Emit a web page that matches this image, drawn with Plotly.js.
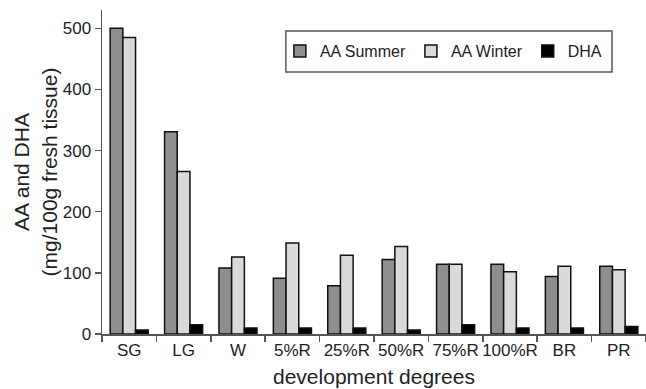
<!DOCTYPE html>
<html>
<head>
<meta charset="utf-8">
<script src="https://cdn.plot.ly/plotly-3.0.1.min.js"></script>
<style>html,body{margin:0;padding:0;background:#fff;}#chart{width:646px;height:389px;}</style>
</head>
<body>
<div id="chart"></div>
<script>
const categories = ["SG","LG","W","5%R","25%R","50%R","75%R","100%R","BR","PR"];
const aaSummer = [500, 331, 108, 91, 79, 122, 114, 114, 94, 111];
const aaWinter = [485, 266, 126, 149, 129, 143, 114, 102, 111, 105];
const dha = [6.5, 15, 9.8, 9.8, 9.8, 6.5, 15, 9.8, 9.8, 12.4];

const font = {family: "Liberation Sans, Arial, sans-serif", color: "#222"};
const outline = {color: "#111", width: 1.5};

const traces = [
  {type: "bar", name: "AA Summer", x: categories, y: aaSummer,
   marker: {color: "#8e8e8e", line: outline}},
  {type: "bar", name: "AA Winter", x: categories, y: aaWinter,
   marker: {color: "#dadada", line: outline}},
  {type: "bar", name: "DHA", x: categories, y: dha,
   marker: {color: "#000000", line: outline}}
];

const layout = {
  width: 646, height: 389,
  margin: {l: 102, r: 0, t: 10, b: 55},
  paper_bgcolor: "#fff", plot_bgcolor: "#fff",
  font: Object.assign({size: 16}, font),
  barmode: "group", bargap: 0.3, bargroupgap: 0,
  showlegend: true,
  legend: {orientation: "h", x: 0.327, xanchor: "left", y: 0.8735, yanchor: "middle",
           bgcolor: "rgba(0,0,0,0)", borderwidth: 0, font: Object.assign({size: 16}, font)},
  xaxis: {type: "category", showline: true, linecolor: "#555", linewidth: 1.5,
          ticks: "outside", tickson: "boundaries", ticklen: 6, tickcolor: "#555", tickwidth: 1.5,
          tickangle: 0, automargin: false,
          showgrid: false, zeroline: false, tickfont: Object.assign({size: 17}, font),
          title: {text: "development degrees", font: Object.assign({size: 21}, font), standoff: 10}},
  yaxis: {range: [0, 530], dtick: 100, showline: true, linecolor: "#555", linewidth: 1.5,
          ticks: "outside", ticklen: 6, tickcolor: "#555", tickwidth: 1.5, automargin: false,
          showgrid: false, zeroline: false, tickfont: Object.assign({size: 17}, font),
          title: {text: "AA and DHA<br>(mg/100g fresh tissue)", font: Object.assign({size: 21}, font)}},
  shapes: [{type: "rect", xref: "paper", yref: "paper", x0: 0.338, x1: 0.9375, y0: 0.809, y1: 0.935,
            line: {color: "#555", width: 1.5}, fillcolor: "rgba(0,0,0,0)"}]
};

Plotly.newPlot("chart", traces, layout, {displayModeBar: false, staticPlot: true});
</script>
</body>
</html>
